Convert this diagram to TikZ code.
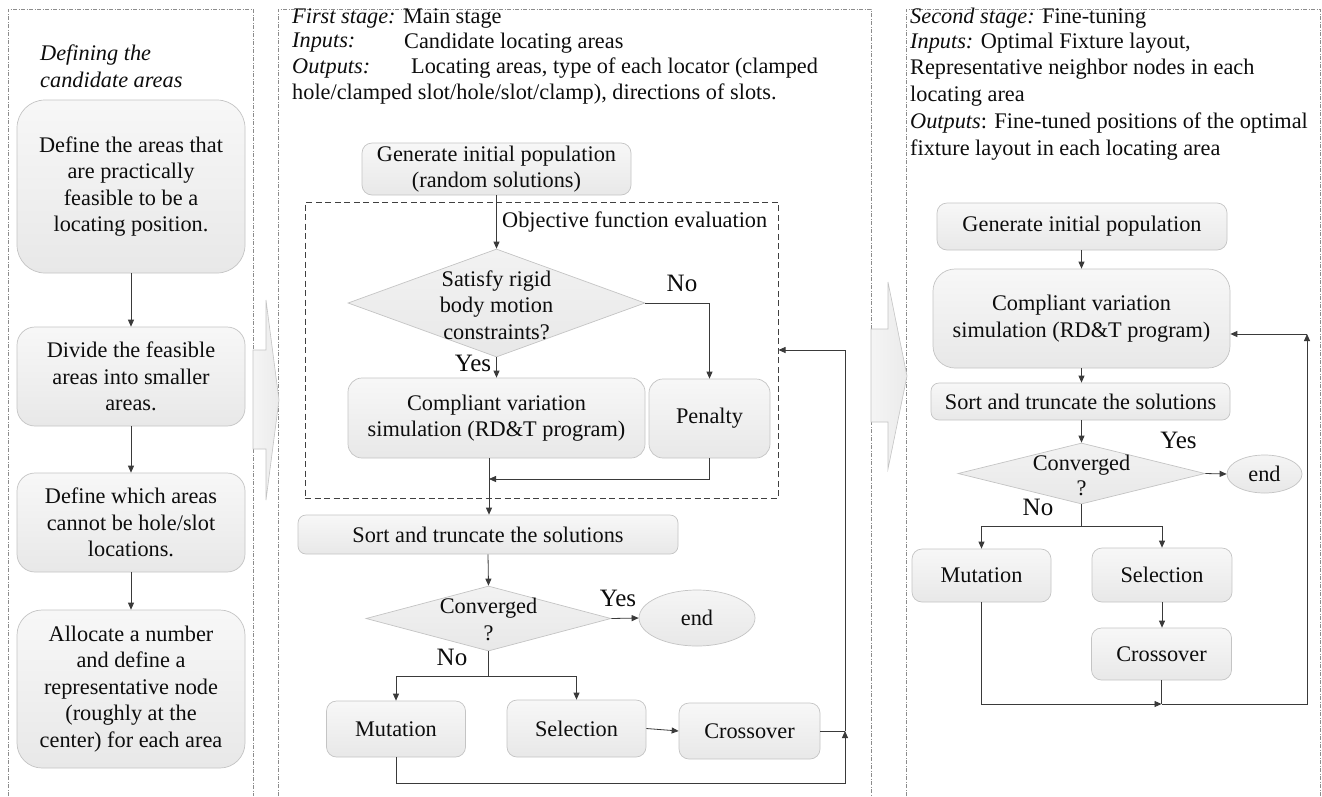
\documentclass[tikz,border=0pt]{standalone}
\usepackage{fontspec}
\setmainfont{Liberation Serif}
\usetikzlibrary{arrows.meta,shapes.geometric}
\definecolor{boxline}{HTML}{C4C4C4}
\definecolor{boxfill}{HTML}{E8E8E8}
\definecolor{conn}{HTML}{3A3A3A}
\definecolor{panelline}{HTML}{8C8C8C}
\newcommand{\fsz}{\fontsize{22.3}{26.5}\selectfont}
\tikzset{
  box/.style={draw=boxline, line width=0.7pt, top color=white!97!black, bottom color=boxfill, align=center, inner sep=0pt, font=\fsz, text=black!95},
  dia/.style={shape=diamond, draw=boxline, line width=0.7pt, top color=white!95!black, bottom color=boxfill, inner sep=0pt},
  ell/.style={shape=ellipse, draw=boxline, line width=0.7pt, top color=white!96!black, bottom color=boxfill, inner sep=0pt, font=\fsz, text=black!95},
  txt/.style={align=center, inner sep=0pt, font=\fsz, text=black!95},
  hdr/.style={anchor=west, align=left, inner sep=0pt, font=\fsz, text=black!95},
  lbl/.style={inner sep=0pt, font=\fontsize{25}{29}\selectfont, text=black!95},
  arr/.style={draw=conn, line width=0.8pt, -{Triangle[length=7pt,width=6pt]}},
  ln/.style={draw=conn, line width=0.8pt},
  panel/.style={draw=panelline, line width=0.6pt, dash pattern=on 4pt off 1.5pt on 1pt off 1.5pt},
  dashbox/.style={draw=black!75, line width=1pt, dash pattern=on 6pt off 3.5pt, inner sep=0pt},
  bigarrow/.style={draw=boxline, line width=0.6pt, left color=white!96!black, right color=white!92!black}
}
\begin{document}
\begin{tikzpicture}[x=1pt,y=-1pt]
\useasboundingbox (0,0) rectangle (1322,796);
\fill[white] (0,0) rectangle (1322,796);

% panels
\draw[panel] (8,796) -- (8,9) -- (253,9) -- (253,796);
\draw[panel] (278,796) -- (278,9) -- (871,9) -- (871,796);
\draw[panel] (906,796) -- (906,9) -- (1320,9) -- (1320,796);

% big arrows
\draw[bigarrow] (253,350) -- (266,350) -- (266,300) -- (279,400) -- (266,500) -- (266,449) -- (253,449) -- cycle;
\draw[bigarrow] (871,329) -- (888,329) -- (888,282) -- (907,376) -- (888,469) -- (888,422) -- (871,422) -- cycle;

% ---------------- left panel
\node[hdr, font=\fsz\itshape] (ltitle) at (40,66.5) {Defining the\\candidate areas};
\node[box, rounded corners=28pt, minimum width=228pt, minimum height=173pt] (b1) at (131,186.5)
  {Define the areas that\\are practically\\feasible to be a\\locating position.};
\node[box, rounded corners=18pt, minimum width=228pt, minimum height=99pt] (b2) at (131,376.5)
  {Divide the feasible\\areas into smaller\\areas.};
\node[box, rounded corners=18pt, minimum width=228pt, minimum height=99pt] (b3) at (131,522.5)
  {Define which areas\\cannot be hole/slot\\locations.};
\node[box, rounded corners=25pt, minimum width=228pt, minimum height=158pt] (b4) at (131,689)
  {Allocate a number\\and define a\\representative node\\(roughly at the\\center) for each area};
\draw[arr] (b1) -- (b2);
\draw[arr] (b2) -- (b3);
\draw[arr] (b3) -- (b4);

% ---------------- middle panel
\node[hdr] (mh1) at (292,19) {\textit{First stage:} Main stage};
\node[hdr] (mh2) at (292,43) {\textit{Inputs:}};
\node[hdr] (mh2b) at (404,43) {Candidate locating areas};
\node[hdr] (mh3) at (292,68) {\textit{Outputs:}};
\node[hdr] (mh3b) at (411,68) {Locating areas, type of each locator (clamped};
\node[hdr] (mh4) at (292,94) {hole/clamped slot/hole/slot/clamp), directions of slots.};

\node[box, rounded corners=10pt, minimum width=269pt, minimum height=52pt] (g1) at (496.5,169)
  {Generate initial population\\(random solutions)};
\node[dashbox, minimum width=473pt, minimum height=296pt] (obj) at (541.5,350) {};
\node[hdr] (objl) at (502,222) {Objective function evaluation};

\node[dia, minimum width=297pt, minimum height=108pt] (d1) at (496.5,303) {};
\node[txt] (d1t) at (496.5,305) {Satisfy rigid\\body motion\\constraints?};
\node[box, rounded corners=14pt, minimum width=297pt, minimum height=80pt] (c1) at (496.5,418)
  {Compliant variation\\simulation (RD\&T program)};
\node[box, rounded corners=14pt, minimum width=121pt, minimum height=79pt] (p1) at (709.5,418.5) {Penalty};
\node[lbl] (no1) at (682,283) {No};
\node[lbl] (yes1) at (473,363) {Yes};

\node[box, rounded corners=8pt, minimum width=380pt, minimum height=39pt] (s1) at (488,534.5)
  {Sort and truncate the solutions};
\node[dia, minimum width=245pt, minimum height=65pt] (d2) at (488.5,618.5) {};
\node[txt] (d2t) at (488.5,619.5) {Converged\\?};
\node[ell, minimum width=116pt, minimum height=56pt] (e1) at (697,618) {end};
\node[lbl] (yes2) at (618,598) {Yes};
\node[lbl] (no2) at (452,657) {No};

\node[box, rounded corners=10pt, minimum width=139pt, minimum height=56pt] (m1) at (396,729) {Mutation};
\node[box, rounded corners=10pt, minimum width=139pt, minimum height=57pt] (se1) at (576.5,728.5) {Selection};
\node[box, rounded corners=10pt, minimum width=141pt, minimum height=56pt] (cr1) at (749.5,731) {Crossover};

\coordinate (pj) at (489,479);
\coordinate (j1) at (488.5,676);
\coordinate (j2) at (845,731);
\coordinate (j2b) at (845,783);
\coordinate (j2t) at (845,350);

\draw[arr] (g1.south) -- (d1.north);
\draw[arr] (d1.east) -| (p1.north);
\draw[arr] (d1.south) -- (c1.north);
\draw[arr] (p1.south) |- (pj);
\draw[arr] (c1.south -| pj) -- (s1.north -| pj);
\draw[arr] (s1.south) -- (d2.north);
\draw[arr] (d2.east) -- (e1.west);
\draw[ln] (d2.south) -- (j1);
\draw[arr] (j1) -| (m1.north);
\draw[arr] (j1) -| (se1.north);
\draw[arr] (se1.east) -- (cr1.west);
\draw[ln] (cr1.east) -- (j2);
\draw[arr] (m1.south) |- (j2b) -- (j2);
\draw[arr] (j2) -- (j2t) -- (obj.east);

% ---------------- right panel
\node[hdr] (rh1) at (910,18) {\textit{Second stage:} Fine-tuning};
\node[hdr] (rh2) at (910,43) {\textit{Inputs:} Optimal Fixture layout,};
\node[hdr] (rh3) at (910,69) {Representative neighbor nodes in each};
\node[hdr] (rh4) at (910,96) {locating area};
\node[hdr] (rh5) at (910,123) {\textit{Outputs}: Fine-tuned positions of the optimal};
\node[hdr] (rh6) at (910,150) {fixture layout in each locating area};

\node[box, rounded corners=10pt, minimum width=290pt, minimum height=47pt] (g2) at (1082,226.5) {Generate initial population};
\node[box, rounded corners=22pt, minimum width=297pt, minimum height=99pt] (c2) at (1081.5,318.5)
  {Compliant variation\\simulation (RD\&T program)};
\node[box, rounded corners=8pt, minimum width=299pt, minimum height=37pt] (s2) at (1080.5,401.5)
  {Sort and truncate the solutions};
\node[dia, minimum width=247pt, minimum height=61pt] (d3) at (1081.5,473.5) {};
\node[txt, font=\fontsize{22.3}{25}\selectfont] (d3t) at (1081.5,475.5) {Converged\\?};
\node[ell, minimum width=75pt, minimum height=38pt] (e2) at (1264.5,474) {end};
\node[lbl] (yes3) at (1178.5,440) {Yes};
\node[lbl] (no3) at (1038,507) {No};

\node[box, rounded corners=10pt, minimum width=139pt, minimum height=53pt] (m2) at (981.5,575.5) {Mutation};
\node[box, rounded corners=10pt, minimum width=140pt, minimum height=54pt] (se2) at (1162,575) {Selection};
\node[box, rounded corners=10pt, minimum width=140pt, minimum height=52pt] (cr2) at (1161.5,654) {Crossover};

\coordinate (j3) at (1081.5,526);
\coordinate (j4) at (1161.5,704);
\coordinate (j5b) at (1307,704);
\coordinate (j5) at (1307,334);

\draw[arr] (g2.south -| c2.north) -- (c2.north);
\draw[arr] (c2.south) -- (c2.south |- s2.north);
\draw[arr] (s2.south -| d3.north) -- (d3.north);
\draw[arr] (d3.east) -- (e2.west);
\draw[ln] (d3.south) -- (j3);
\draw[arr] (j3) -| (m2.north);
\draw[arr] (j3) -| (se2.north);
\draw[arr] (se2.south) -- (se2.south |- cr2.north);
\draw[ln] (cr2.south) -- (j4);
\draw[arr] (m2.south) |- (j4);
\draw[arr] (j4) -- (j5b) -- (j5);
\draw[arr] (j5) -- (c2.east |- j5);
\end{tikzpicture}
\end{document}
